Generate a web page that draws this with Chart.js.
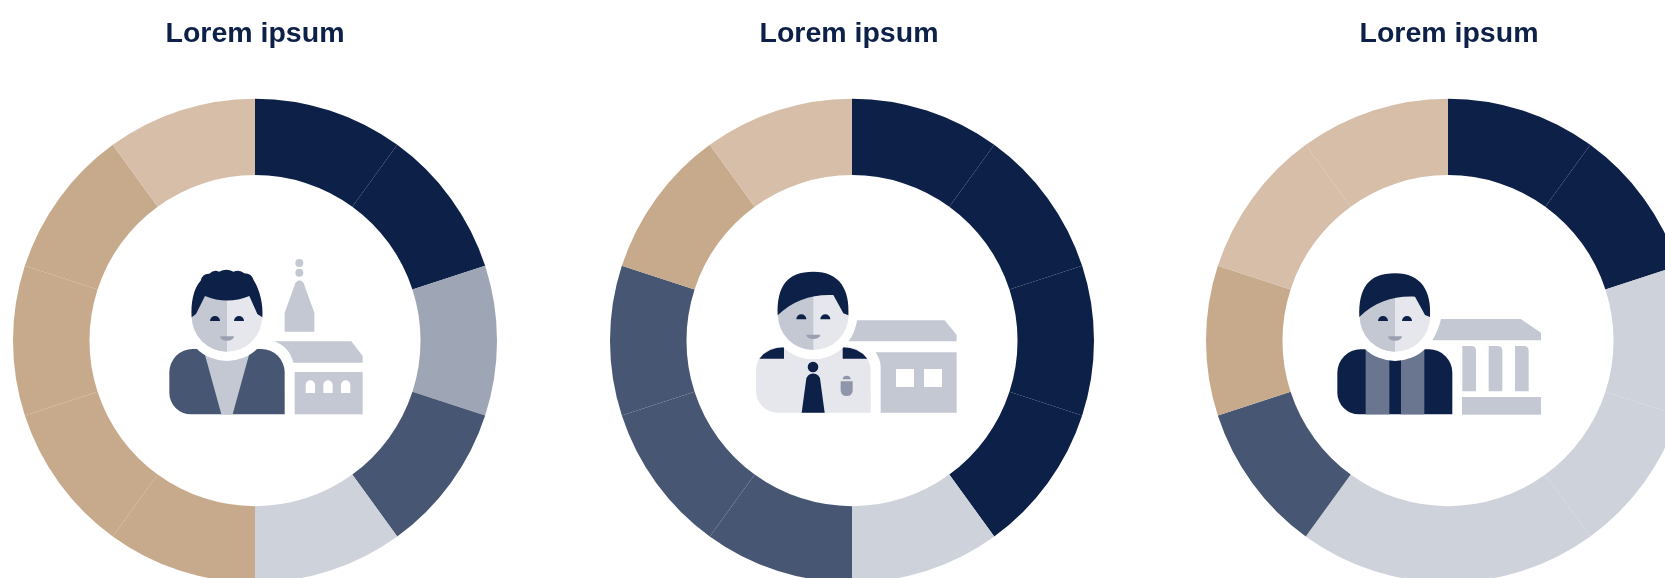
<!DOCTYPE html>
<html>
<head>
<meta charset="utf-8">
<title>Lorem ipsum</title>
<script src="https://cdn.jsdelivr.net/npm/chart.js@4"></script>
<style>
  html, body { margin: 0; padding: 0; width: 1665px; height: 578px; overflow: hidden; background: #fff; }
  canvas { position: absolute; top: 0; }
</style>
</head>
<body>
<canvas id="panel1" width="484" height="583" style="left:13px"></canvas>
<canvas id="panel2" width="484" height="583" style="left:610px"></canvas>
<canvas id="panel3" width="484" height="583" style="left:1206px"></canvas>
<script>
const titles = ["Lorem ipsum", "Lorem ipsum", "Lorem ipsum"];
const segments = ["1", "2", "3", "4", "5", "6", "7", "8", "9", "10"];

const values1 = [1, 1, 1, 1, 1, 1, 1, 1, 1, 1];
const values2 = [1, 1, 1, 1, 1, 1, 1, 1, 1, 1];
const values3 = [1, 1, 1, 1, 1, 1, 1, 1, 1, 1];

const groups1 = ["a", "a", "b", "c", "d", "e", "e", "e", "e", "f"];
const groups2 = ["a", "a", "a", "a", "d", "c", "c", "c", "e", "f"];
const groups3 = ["a", "a", "d", "d", "d", "d", "c", "e", "f", "f"];

const groupColors = { a: "#0c2048", b: "#9ea6b6", c: "#475672", d: "#cdd2db", e: "#c7aa8b", f: "#d6bea8" };

const NAVY = "#0c2048", LIGHT = "#e6e7ec", MID = "#c3c8d3", MOUTH = "#9aa0b2";

// head with split face, hair is drawn by the caller
function head(ctx, cx, cy) {
  ctx.fillStyle = "#fff";
  ctx.beginPath(); ctx.ellipse(cx, cy, 132, 134, 0, 0, Math.PI * 2); ctx.fill();
  ctx.fillStyle = LIGHT;
  ctx.beginPath(); ctx.ellipse(cx, cy, 106, 106, 0, 0, Math.PI * 2); ctx.fill();
  ctx.fillStyle = MID;
  ctx.beginPath(); ctx.ellipse(cx, cy, 106, 106, 0, Math.PI / 2, Math.PI * 1.5); ctx.fill();
  // eyes and mouth
  ctx.fillStyle = NAVY;
  [cx - 36, cx + 36].forEach(x => {
    ctx.beginPath(); ctx.ellipse(x, cy + 14, 15, 15, 0, Math.PI, 0); ctx.fill();
  });
  ctx.fillStyle = MOUTH;
  ctx.beginPath(); ctx.ellipse(cx, cy + 60, 21, 13, 0, 0, Math.PI); ctx.fill();
}

function body(ctx, x0, x1, y0, y1, color) {
  ctx.fillStyle = color;
  ctx.beginPath();
  ctx.moveTo(x0 + 70, y0);
  ctx.arcTo(x1, y0, x1, y1, 70);
  ctx.lineTo(x1, y1);
  ctx.arcTo(x0, y1, x0, y0, 65);
  ctx.arcTo(x0, y0, x1, y0, 70);
  ctx.fill();
}

function sweptHair(ctx, dx, dy) {
  ctx.fillStyle = NAVY;
  ctx.beginPath();
  ctx.moveTo(113 + dx, 196 + dy);
  ctx.bezierCurveTo(110 + dx, 110 + dy, 140 + dx, 65 + dy, 220 + dx, 65 + dy);
  ctx.bezierCurveTo(300 + dx, 65 + dy, 330 + dx, 120 + dy, 325 + dx, 196 + dy);
  ctx.lineTo(310 + dx, 190 + dy);
  ctx.lineTo(280 + dx, 135 + dy);
  ctx.bezierCurveTo(215 + dx, 132 + dy, 160 + dx, 150 + dy, 113 + dx, 196 + dy);
  ctx.fill();
}

function drawIcon1(ctx) {
  ctx.fillStyle = MID;
  [[448, 69], [448, 98]].forEach(p => {
    ctx.beginPath(); ctx.arc(p[0], p[1], 12, 0, Math.PI * 2); ctx.fill();
  });
  ctx.beginPath();
  ctx.moveTo(404, 275); ctx.lineTo(404, 218); ctx.lineTo(436, 130);
  ctx.quadraticCurveTo(448, 112, 461, 130);
  ctx.lineTo(493, 218); ctx.lineTo(493, 275); ctx.fill();
  ctx.beginPath();
  ctx.moveTo(372, 304); ctx.lineTo(604, 304); ctx.lineTo(638, 348); ctx.lineTo(638, 368); ctx.lineTo(430, 368);
  ctx.quadraticCurveTo(418, 320, 372, 304); ctx.fill();
  ctx.fillRect(434, 396, 204, 127);
  ctx.fillStyle = "#fff";
  [467, 520, 573].forEach(x => {
    ctx.beginPath();
    ctx.moveTo(x, 459); ctx.lineTo(x, 435);
    ctx.arc(x + 14, 435, 14, Math.PI, 0);
    ctx.lineTo(x + 28, 459); ctx.fill();
  });
  body(ctx, 58, 404, 327, 523, "#475672");
  ctx.fillStyle = MID;
  ctx.beginPath();
  ctx.moveTo(165, 345); ctx.lineTo(297, 345); ctx.lineTo(248, 523); ctx.lineTo(214, 523); ctx.fill();
  head(ctx, 231, 229);
  ctx.fillStyle = NAVY;
  ctx.beginPath();
  ctx.moveTo(125, 232);
  ctx.bezierCurveTo(122, 190, 130, 145, 152, 122);
  ctx.quadraticCurveTo(157, 100, 178, 101);
  ctx.quadraticCurveTo(192, 88, 207, 95);
  ctx.quadraticCurveTo(230, 84, 250, 95);
  ctx.quadraticCurveTo(270, 88, 283, 100);
  ctx.quadraticCurveTo(305, 100, 312, 122);
  ctx.bezierCurveTo(330, 150, 340, 195, 337, 232);
  ctx.lineTo(322, 222);
  ctx.lineTo(298, 168);
  ctx.quadraticCurveTo(231, 195, 165, 168);
  ctx.lineTo(138, 222);
  ctx.closePath();
  ctx.fill();
}

function drawIcon2(ctx) {
  ctx.fillStyle = MID;
  ctx.beginPath();
  ctx.moveTo(350, 211); ctx.lineTo(614, 211); ctx.lineTo(650, 255); ctx.lineTo(650, 274); ctx.lineTo(322, 274);
  ctx.quadraticCurveTo(345, 245, 350, 211); ctx.fill();
  ctx.beginPath();
  ctx.moveTo(407, 307); ctx.lineTo(650, 307); ctx.lineTo(650, 488); ctx.lineTo(422, 488); ctx.lineTo(422, 350);
  ctx.quadraticCurveTo(420, 325, 407, 307); ctx.fill();
  ctx.fillStyle = "#fff";
  ctx.fillRect(468, 357, 54, 54);
  ctx.fillRect(552, 357, 54, 54);
  body(ctx, 48, 392, 292, 488, LIGHT);
  // epaulettes
  ctx.fillStyle = NAVY;
  ctx.beginPath();
  ctx.moveTo(58, 326); ctx.quadraticCurveTo(85, 292, 132, 292); ctx.lineTo(132, 326); ctx.fill();
  ctx.beginPath();
  ctx.moveTo(308, 292); ctx.quadraticCurveTo(355, 292, 382, 326); ctx.lineTo(308, 326); ctx.fill();
  head(ctx, 220, 194);
  sweptHair(ctx, 0, 0);
  // tie
  ctx.fillStyle = NAVY;
  ctx.beginPath(); ctx.arc(219, 351, 16, 0, Math.PI * 2); ctx.fill();
  ctx.beginPath();
  ctx.moveTo(185, 488); ctx.lineTo(198, 392);
  ctx.arc(219.5, 392, 21.5, Math.PI, 0);
  ctx.lineTo(254, 488); ctx.fill();
  // badge
  ctx.fillStyle = "#8f96a9";
  ctx.beginPath(); ctx.ellipse(320, 388, 12, 11, 0, Math.PI, 0); ctx.fill();
  ctx.beginPath();
  ctx.moveTo(302, 394); ctx.lineTo(338, 394); ctx.lineTo(338, 422);
  ctx.quadraticCurveTo(336, 438, 320, 438);
  ctx.quadraticCurveTo(304, 438, 302, 422); ctx.fill();
}

function drawIcon3(ctx) {
  ctx.fillStyle = MID;
  ctx.beginPath();
  ctx.moveTo(363, 207); ctx.lineTo(602, 207); ctx.lineTo(663, 248); ctx.lineTo(663, 271); ctx.lineTo(336, 271);
  ctx.quadraticCurveTo(356, 240, 363, 207); ctx.fill();
  [427, 506, 585].forEach(x => {
    ctx.beginPath();
    ctx.moveTo(x, 424); ctx.lineTo(x, 288); ctx.lineTo(x + 27, 288);
    ctx.quadraticCurveTo(x + 41, 288, x + 41, 302);
    ctx.lineTo(x + 41, 424); ctx.fill();
  });
  ctx.fillRect(426, 441, 237, 53);
  body(ctx, 52, 397, 298, 493, NAVY);
  ctx.fillStyle = "#6a7590";
  ctx.fillRect(137, 298, 71, 195);
  ctx.fillRect(243, 298, 70, 195);
  head(ctx, 225, 199);
  sweptHair(ctx, 5, 5);
}

// title is pulled a little off the ring centre, icon sits in the hole
const panelArt = {
  id: "panelArt",
  afterLayout(chart, args, opts) {
    chart.titleBlock.left += opts.titleShift;
    chart.titleBlock.right += opts.titleShift;
  },
  afterDraw(chart, args, opts) {
    const ctx = chart.ctx;
    ctx.save();
    ctx.translate(opts.originX, opts.originY);
    ctx.scale(1 / 3, 1 / 3);
    opts.icon(ctx);
    ctx.restore();
  }
};

function makePanel(id, title, values, groups, art) {
  new Chart(document.getElementById(id), {
    type: "doughnut",
    data: {
      labels: segments,
      datasets: [{
        data: values,
        backgroundColor: groups.map(g => groupColors[g]),
        borderWidth: 0
      }]
    },
    options: {
      responsive: false,
      animation: false,
      cutout: "68.4%",
      layout: { padding: 0 },
      plugins: {
        legend: { display: false },
        tooltip: { enabled: false },
        title: {
          display: true,
          text: title,
          color: NAVY,
          font: { family: "'Liberation Sans', Arial, sans-serif", size: 28.5, weight: "bold" },
          padding: { top: 17.5, bottom: 46.6 }
        },
        panelArt: art
      }
    },
    plugins: [panelArt]
  });
}

makePanel("panel1", titles[0], values1, groups1, { titleShift: 0, originX: 137, originY: 240, icon: drawIcon1 });
makePanel("panel2", titles[1], values2, groups2, { titleShift: -3, originX: 130, originY: 250, icon: drawIcon2 });
makePanel("panel3", titles[2], values3, groups3, { titleShift: 1, originX: 114, originY: 250, icon: drawIcon3 });
</script>
</body>
</html>
